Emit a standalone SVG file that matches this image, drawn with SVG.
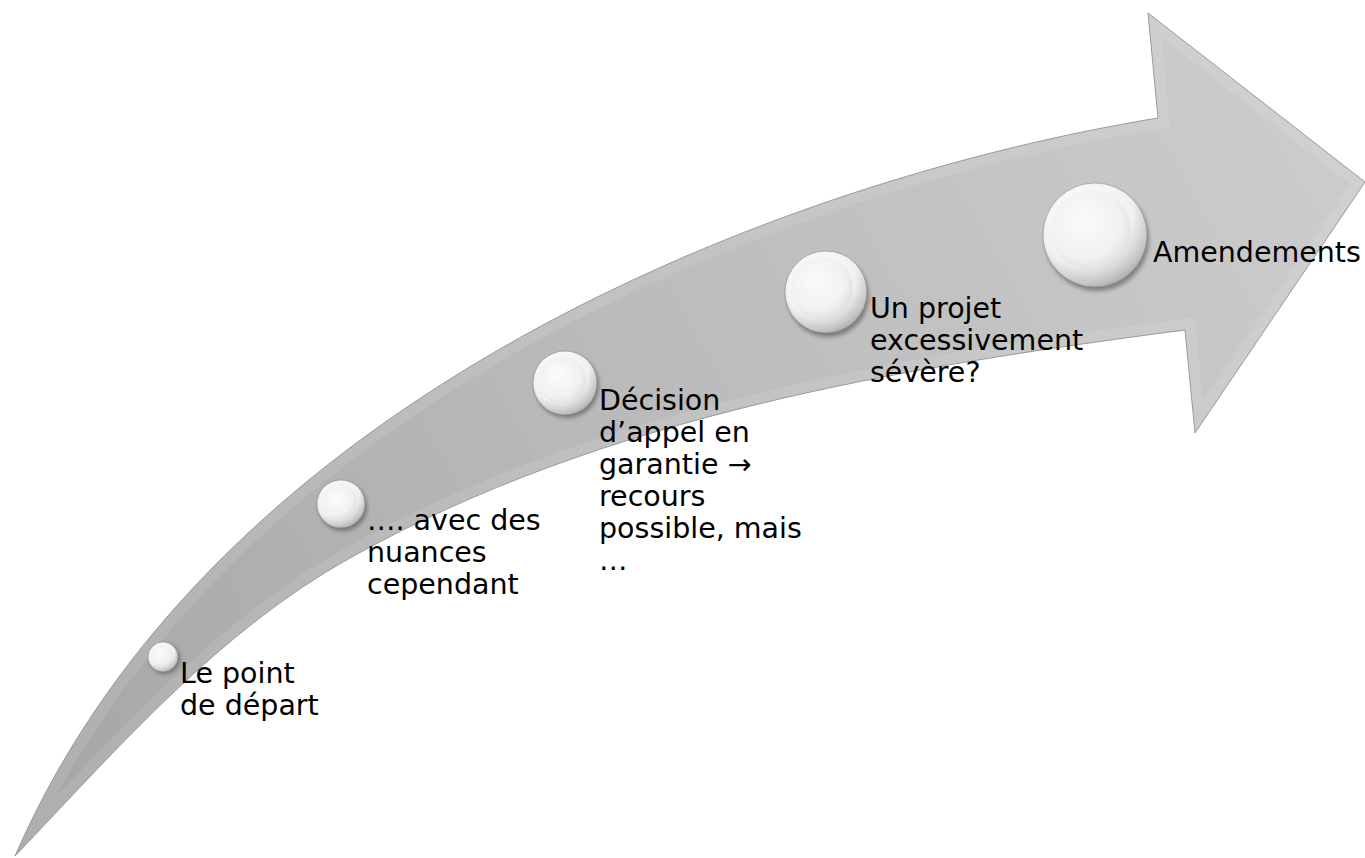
<svg xmlns="http://www.w3.org/2000/svg" width="1365" height="858" viewBox="0 0 1365 858">
<defs>
<style>
.lbl{font-family:"DejaVu Sans","Liberation Sans",Verdana,sans-serif;font-size:28.5px;fill:#000}
.shadow{fill:#000;opacity:0.35;filter:url(#blur)}
.ring{fill:url(#ringG);stroke:#8a8a8a;stroke-width:0.6}
.inner{fill:url(#innerG)}
</style>
<linearGradient id="bodyG" gradientUnits="userSpaceOnUse" x1="15" y1="856" x2="1300" y2="150">
<stop offset="0" stop-color="#a5a5a5"/>
<stop offset="0.45" stop-color="#b8b8b8"/>
<stop offset="1" stop-color="#cbcbcb"/>
</linearGradient>
<radialGradient id="ringG" cx="0.38" cy="0.3" r="0.78">
<stop offset="0" stop-color="#ffffff"/>
<stop offset="0.62" stop-color="#f0f0f0"/>
<stop offset="0.86" stop-color="#c4c4c4"/>
<stop offset="1" stop-color="#9c9c9c"/>
</radialGradient>
<radialGradient id="innerG" cx="0.42" cy="0.4" r="0.65">
<stop offset="0" stop-color="#fbfbfb"/>
<stop offset="0.7" stop-color="#f1f1f1"/>
<stop offset="1" stop-color="#dcdcdc"/>
</radialGradient>
<filter id="blur" x="-50%" y="-50%" width="200%" height="200%">
<feGaussianBlur stdDeviation="2"/>
</filter>
<clipPath id="arrowClip">
<path id="arrowShape" d="M15,856 C215,396 780,180 1158,118 L1148,13 L1365,182 L1195,433 L1185,330 C898,367.4 603,416.5 350,558 C219,631 118,748 15,856 Z"/>
</clipPath>
</defs>

<g id="arrow">
<use href="#arrowShape" fill="url(#bodyG)"/>
<g clip-path="url(#arrowClip)">
<use href="#arrowShape" fill="none" stroke="#ffffff" stroke-opacity="0.10" stroke-width="22" stroke-linejoin="miter"/>
</g>
<use href="#arrowShape" fill="none" stroke="#9a9a9a" stroke-width="1"/>
</g>

<g id="connectors"></g>

<g id="node1">
<circle class="shadow" cx="165" cy="659" r="15"/>
<circle class="ring" cx="163" cy="657" r="15"/>
<circle class="inner" cx="162" cy="656" r="11"/>
<text class="lbl" x="180" y="683">Le point</text>
<text class="lbl" x="180" y="715">de départ</text>
</g>

<g id="node2">
<circle class="shadow" cx="343" cy="507" r="24"/>
<circle class="ring" cx="341" cy="504" r="24"/>
<circle class="inner" cx="339" cy="502" r="18"/>
<text class="lbl" x="367" y="530">…. avec des</text>
<text class="lbl" x="367" y="562">nuances</text>
<text class="lbl" x="367" y="594">cependant</text>
</g>

<g id="node3">
<circle class="shadow" cx="567" cy="386" r="32"/>
<circle class="ring" cx="565" cy="383" r="32"/>
<circle class="inner" cx="562" cy="380" r="24"/>
<text class="lbl" x="599" y="410">Décision</text>
<text class="lbl" x="599" y="442">d’appel en</text>
<text class="lbl" x="599" y="474">garantie →</text>
<text class="lbl" x="599" y="506">recours</text>
<text class="lbl" x="599" y="538">possible, mais</text>
<text class="lbl" x="599" y="570">…</text>
</g>

<g id="node4">
<circle class="shadow" cx="828" cy="296" r="41"/>
<circle class="ring" cx="826" cy="292" r="41"/>
<circle class="inner" cx="822" cy="288" r="31"/>
<text class="lbl" x="870" y="318">Un projet</text>
<text class="lbl" x="870" y="350">excessivement</text>
<text class="lbl" x="870" y="382">sévère?</text>
</g>

<g id="node5">
<circle class="shadow" cx="1097" cy="239" r="52"/>
<circle class="ring" cx="1095" cy="235" r="52"/>
<circle class="inner" cx="1091" cy="230" r="40"/>
<text class="lbl" x="1153" y="262">Amendements</text>
</g>
</svg>
